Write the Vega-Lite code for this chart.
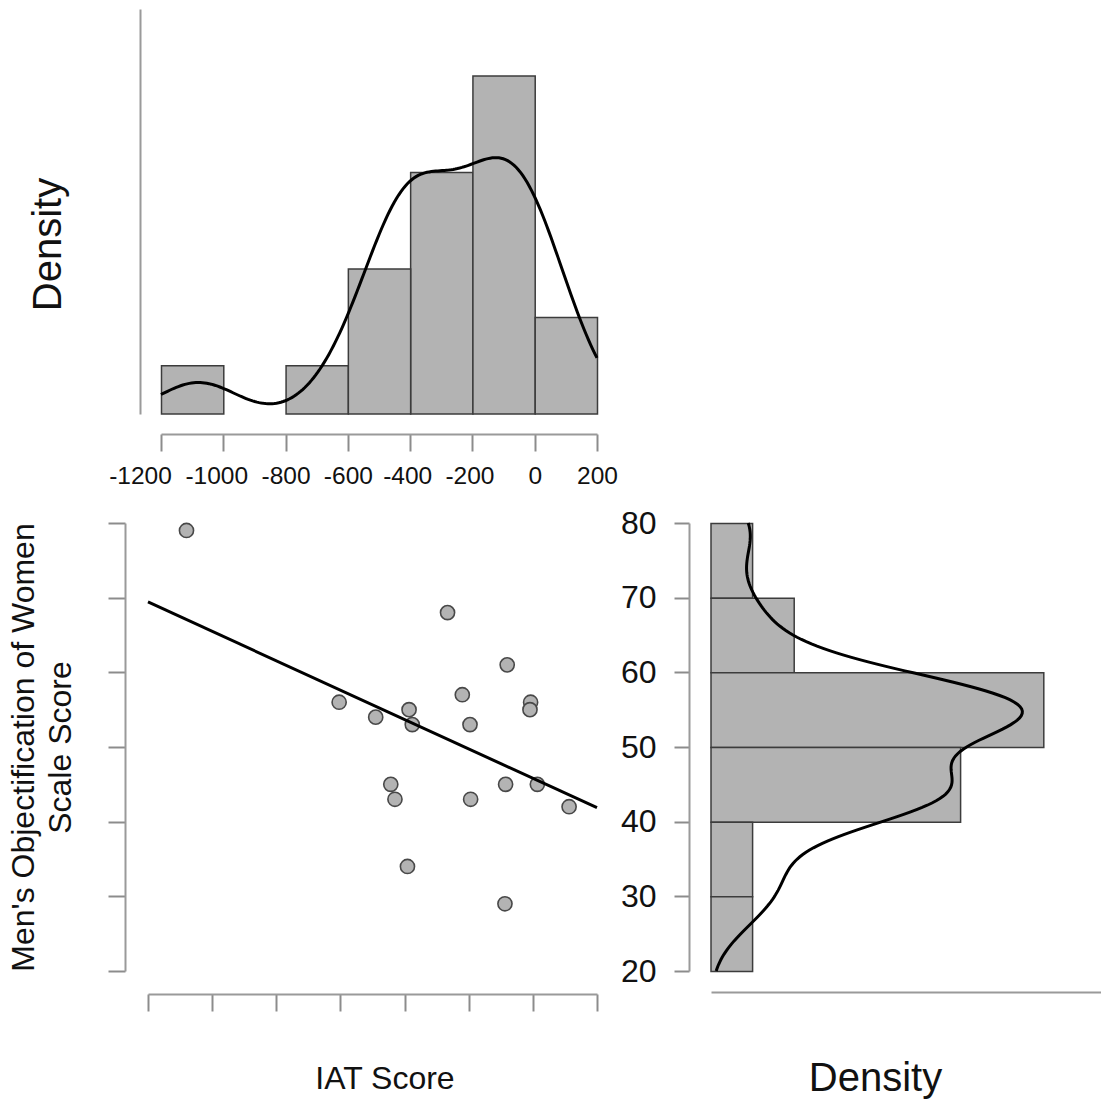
{
  "$schema": "https://vega.github.io/schema/vega-lite/v6.json",
  "background": "white",
  "autosize": {"type": "pad"},
  "padding": {"left": 7, "top": 9, "right": 0, "bottom": 2},
  "data": {
    "values": [
      {"iat": -1080, "mows": 79},
      {"iat": -266, "mows": 68},
      {"iat": -80, "mows": 61},
      {"iat": -220, "mows": 57},
      {"iat": -7, "mows": 56},
      {"iat": -9, "mows": 55},
      {"iat": -604, "mows": 56},
      {"iat": -490, "mows": 54},
      {"iat": -386, "mows": 55},
      {"iat": -376, "mows": 53},
      {"iat": -196, "mows": 53},
      {"iat": -443, "mows": 45},
      {"iat": -430, "mows": 43},
      {"iat": -194, "mows": 43},
      {"iat": -85, "mows": 45},
      {"iat": 14, "mows": 45},
      {"iat": 113, "mows": 42},
      {"iat": -391, "mows": 34},
      {"iat": -87, "mows": 29}
    ]
  },
  "bounds": "flush",
  "spacing": 109,
  "config": {
    "view": {"stroke": null},
    "axis": {
      "domainColor": "#9a9a9a",
      "domainWidth": 2,
      "tickColor": "#8c8c8c",
      "tickWidth": 2,
      "labelColor": "#111111",
      "titleColor": "#111111",
      "labelFont": "Liberation Sans",
      "titleFont": "Liberation Sans",
      "titleFontWeight": "normal",
      "grid": false
    }
  },
  "vconcat": [
    {
      "width": 449,
      "height": 405,
      "layer": [
        {
          "mark": {"type": "bar", "fill": "#b3b3b3", "stroke": "#3c3c3c", "strokeWidth": 1.5, "binSpacing": 0},
          "encoding": {
            "x": {
              "field": "iat",
              "type": "quantitative",
              "bin": {"extent": [-1200, 200], "step": 200},
              "scale": {"domain": [-1200, 200], "range": [13, 449], "nice": false, "zero": false},
              "axis": {
                "values": [-1200, -1000, -800, -600, -400, -200, 0, 200],
                "title": null,
                "offset": 20,
                "tickSize": 17,
                "labelFontSize": 24.5,
                "labelPadding": 13,
                "labelFlush": false,
                "labelOverlap": false,
                "labelExpr": "toString(datum.value)",
                "labelOffset": {
                  "condition": [
                    {"test": "datum.value == -1200", "value": -21},
                    {"test": "datum.value == -1000", "value": -7},
                    {"test": "datum.value == -400 || datum.value == -200", "value": -3}
                  ],
                  "value": 0
                },
                "minExtent": 0
              }
            },
            "y": {
              "aggregate": "count",
              "type": "quantitative",
              "scale": {"domain": [0, 8.385], "nice": false},
              "axis": {
                "ticks": false,
                "labels": false,
                "offset": 8,
                "title": "Density",
                "titleFontSize": 40,
                "titlePadding": 72,
                "titleY": 235,
                "minExtent": 0
              }
            }
          }
        },
        {
          "transform": [{"density": "iat", "bandwidth": 122.4, "extent": [-1200, 200], "steps": 200}],
          "mark": {"type": "line", "color": "black", "strokeWidth": 3},
          "encoding": {
            "x": {"field": "value", "type": "quantitative", "scale": {"domain": [-1200, 200], "range": [13, 449], "nice": false, "zero": false}},
            "y": {"field": "density", "type": "quantitative", "scale": {"domain": [0, 0.0022066], "nice": false}, "axis": null}
          }
        }
      ],
      "resolve": {"scale": {"y": "independent"}}
    },
    {
      "bounds": "flush",
      "spacing": 114,
      "hconcat": [
        {
          "width": 449,
          "height": 448,
          "layer": [
            {
              "mark": {"type": "point", "filled": true, "fill": "#b3b3b3", "stroke": "#484848", "strokeWidth": 1.6, "size": 200, "opacity": 1},
              "encoding": {
                "x": {
                  "field": "iat",
                  "type": "quantitative",
                  "scale": {"domain": [-1200, 200], "nice": false, "zero": false},
                  "axis": {
                    "values": [-1200, -1000, -800, -600, -400, -200, 0, 200],
                    "labels": false,
                    "tickSize": 17,
                    "offset": 23,
                    "title": "IAT Score",
                    "titleFontSize": 32,
                    "titleX": 236.5,
                    "titlePadding": 51,
                    "minExtent": 0
                  }
                },
                "y": {
                  "field": "mows",
                  "type": "quantitative",
                  "scale": {"domain": [20, 80], "nice": false, "zero": false},
                  "axis": {
                    "values": [20, 30, 40, 50, 60, 70, 80],
                    "labels": false,
                    "tickSize": 17,
                    "offset": 23,
                    "title": ["Men's Objectification of Women", "Scale Score"],
                    "titleFontSize": 32,
                    "titleLineHeight": 37,
                    "titlePadding": 30,
                    "minExtent": 0
                  }
                }
              }
            },
            {
              "transform": [{"regression": "mows", "on": "iat", "extent": [-1200, 200]}],
              "mark": {"type": "line", "color": "black", "strokeWidth": 3},
              "encoding": {
                "x": {"field": "iat", "type": "quantitative"},
                "y": {"field": "mows", "type": "quantitative"}
              }
            }
          ]
        },
        {
          "width": 390,
          "height": 448,
          "layer": [
            {
              "mark": {"type": "bar", "fill": "#b3b3b3", "stroke": "#3c3c3c", "strokeWidth": 1.5, "binSpacing": 0},
              "encoding": {
                "y": {
                  "field": "mows",
                  "type": "quantitative",
                  "bin": {"extent": [20, 80], "step": 10},
                  "scale": {"domain": [20, 80], "nice": false, "zero": false},
                  "axis": {
                    "values": [20, 30, 40, 50, 60, 70, 80],
                    "title": null,
                    "offset": 22,
                    "tickSize": 15,
                    "labelFontSize": 32,
                    "labelPadding": 18,
                    "labelFlush": false,
                    "labelOverlap": false,
                    "minExtent": 0
                  }
                },
                "x": {
                  "aggregate": "count",
                  "type": "quantitative",
                  "scale": {"domain": [0, 9.375], "nice": false},
                  "axis": {
                    "ticks": false,
                    "labels": false,
                    "offset": 21,
                    "title": "Density",
                    "titleFontSize": 40,
                    "titleX": 164,
                    "titlePadding": 66,
                    "minExtent": 0
                  }
                }
              }
            },
            {
              "transform": [{"density": "mows", "bandwidth": 4.47, "extent": [20, 80], "steps": 200}],
              "mark": {"type": "line", "color": "black", "strokeWidth": 3},
              "encoding": {
                "y": {"field": "value", "type": "quantitative", "scale": {"domain": [20, 80], "nice": false, "zero": false}},
                "x": {"field": "density", "type": "quantitative", "scale": {"domain": [0, 0.04934], "nice": false}, "axis": null},
                "order": {"field": "value", "type": "quantitative"}
              }
            }
          ],
          "resolve": {"scale": {"x": "independent"}}
        }
      ]
    }
  ]
}
